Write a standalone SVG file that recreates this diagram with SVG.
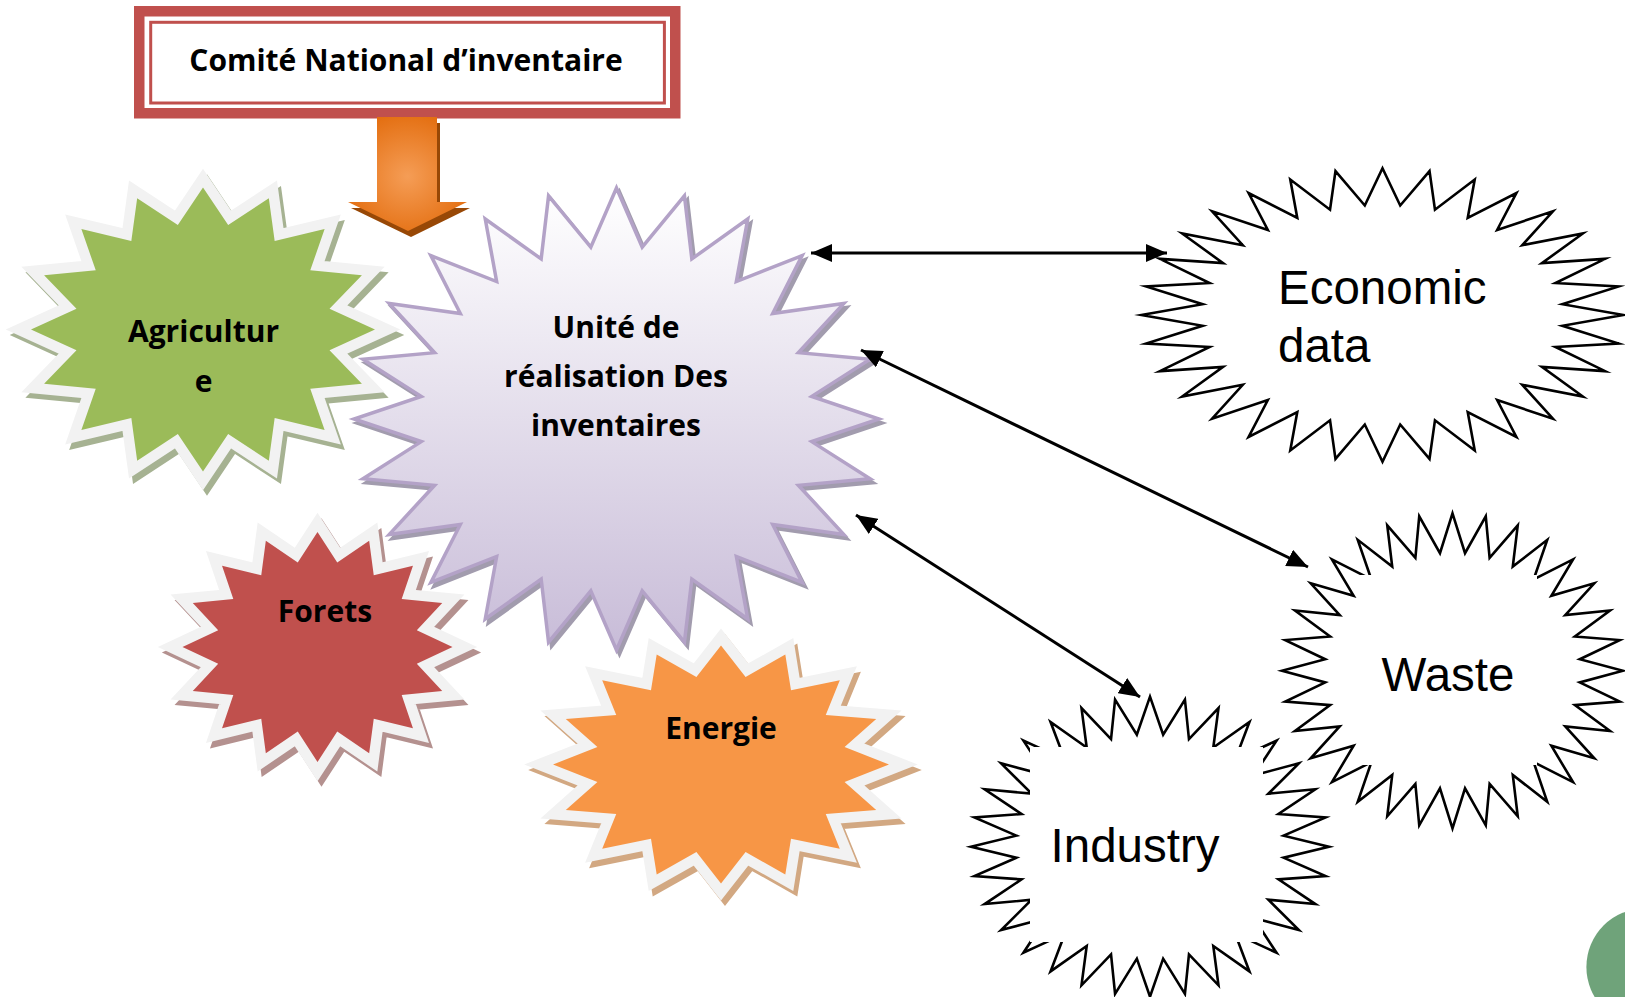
<svg xmlns="http://www.w3.org/2000/svg" width="1625" height="997" viewBox="0 0 1625 997">
<style>
.lbl{font-family:"Open Sans","Liberation Sans",sans-serif;font-weight:700;font-size:30px;fill:#000;text-anchor:middle}
.olbl{font-family:"Liberation Sans",Arial,sans-serif;font-size:47.5px;fill:#000}
.ostar{fill:none;stroke:#000;stroke-width:2.6;stroke-linejoin:miter;stroke-miterlimit:10}
.cstar{stroke:#F2F2F2;stroke-width:21;paint-order:stroke;stroke-linejoin:miter;stroke-miterlimit:10}
.shd{stroke-width:21;stroke-linejoin:miter;stroke-miterlimit:10}
.conn{stroke:#000;stroke-width:3;fill:none;marker-start:url(#ah);marker-end:url(#ah)}
</style>
<defs>
<polygon id="s16" vector-effect="non-scaling-stroke" points="0,-100 14.63,-73.56 38.27,-92.39 41.67,-62.36 70.71,-70.71 62.36,-41.67 92.39,-38.27 73.56,-14.63 100,0 73.56,14.63 92.39,38.27 62.36,41.67 70.71,70.71 41.67,62.36 38.27,92.39 14.63,73.56 0,100 -14.63,73.56 -38.27,92.39 -41.67,62.36 -70.71,70.71 -62.36,41.67 -92.39,38.27 -73.56,14.63 -100,0 -73.56,-14.63 -92.39,-38.27 -62.36,-41.67 -70.71,-70.71 -41.67,-62.36 -38.27,-92.39 -14.63,-73.56"/>
<polygon id="s24" vector-effect="non-scaling-stroke" points="0,-100 9.79,-74.36 25.88,-96.59 28.70,-69.29 50,-86.60 45.66,-59.50 70.71,-70.71 59.50,-45.66 86.60,-50 69.29,-28.70 96.59,-25.88 74.36,-9.79 100,0 74.36,9.79 96.59,25.88 69.29,28.70 86.60,50 59.50,45.66 70.71,70.71 45.66,59.50 50,86.60 28.70,69.29 25.88,96.59 9.79,74.36 0,100 -9.79,74.36 -25.88,96.59 -28.70,69.29 -50,86.60 -45.66,59.50 -70.71,70.71 -59.50,45.66 -86.60,50 -69.29,28.70 -96.59,25.88 -74.36,9.79 -100,0 -74.36,-9.79 -96.59,-25.88 -69.29,-28.70 -86.60,-50 -59.50,-45.66 -70.71,-70.71 -45.66,-59.50 -50,-86.60 -28.70,-69.29 -25.88,-96.59 -9.79,-74.36"/>
<polygon id="s32" vector-effect="non-scaling-stroke" points="0,-100 7.35,-74.64 19.51,-98.08 21.77,-71.77 38.27,-92.39 35.36,-66.14 55.56,-83.15 47.58,-57.98 70.71,-70.71 57.98,-47.58 83.15,-55.56 66.14,-35.36 92.39,-38.27 71.77,-21.77 98.08,-19.51 74.64,-7.35 100,0 74.64,7.35 98.08,19.51 71.77,21.77 92.39,38.27 66.14,35.36 83.15,55.56 57.98,47.58 70.71,70.71 47.58,57.98 55.56,83.15 35.36,66.14 38.27,92.39 21.77,71.77 19.51,98.08 7.35,74.64 0,100 -7.35,74.64 -19.51,98.08 -21.77,71.77 -38.27,92.39 -35.36,66.14 -55.56,83.15 -47.58,57.98 -70.71,70.71 -57.98,47.58 -83.15,55.56 -66.14,35.36 -92.39,38.27 -71.77,21.77 -98.08,19.51 -74.64,7.35 -100,0 -74.64,-7.35 -98.08,-19.51 -71.77,-21.77 -92.39,-38.27 -66.14,-35.36 -83.15,-55.56 -57.98,-47.58 -70.71,-70.71 -47.58,-57.98 -55.56,-83.15 -35.36,-66.14 -38.27,-92.39 -21.77,-71.77 -19.51,-98.08 -7.35,-74.64"/>
<linearGradient id="gPurple" x1="0" y1="0" x2="0" y2="1">
<stop offset="0" stop-color="#FFFFFF"/>
<stop offset="1" stop-color="#C8BCD8"/>
</linearGradient>
<radialGradient id="gArrow" cx="0.5" cy="0.52" r="0.62">
<stop offset="0" stop-color="#F59D56"/>
<stop offset="1" stop-color="#E26A0A"/>
</radialGradient>
<marker id="ah" viewBox="0 0 21 18" refX="21" refY="9" markerWidth="21" markerHeight="18" markerUnits="userSpaceOnUse" orient="auto-start-reverse">
<path d="M0,0 L21,9 L0,18 z" fill="#000"/>
</marker>
</defs>

<g id="comite">
<rect x="139.25" y="11.25" width="536" height="102" fill="#FFFFFF" stroke="#C0504D" stroke-width="10.5"/>
<rect x="150.7" y="22.3" width="513.7" height="80.7" fill="none" stroke="#C0504D" stroke-width="3"/>
<text class="lbl" x="406" y="71" font-size="31">Comité National d’inventaire</text>
</g>

<g id="fleche">
<path d="M377,117 H437 V202 H467 L408,231 L348,202 H377 Z" fill="#984806" transform="translate(3,6)"/>
<path d="M377,117 H437 V202 H467 L408,231 L348,202 H377 Z" fill="url(#gArrow)"/>
</g>

<g id="agriculture">
<use href="#s16" class="shd" fill="#A6B292" stroke="#A6B292" transform="translate(207,335) scale(1.72,1.42)"/>
<use href="#s16" class="cstar" fill="#9BBB59" transform="translate(203,329.5) scale(1.72,1.42)"/>
<text class="lbl" x="203.5" y="342" font-size="29">Agricultur</text>
<text class="lbl" x="203.5" y="392" font-size="29">e</text>
</g>

<g id="forets">
<use href="#s16" class="shd" fill="#B4918F" stroke="#B4918F" transform="translate(321.5,652.5) scale(1.35,1.15)"/>
<use href="#s16" class="cstar" fill="#C0504D" transform="translate(317.5,647) scale(1.35,1.15)"/>
<text class="lbl" x="325" y="622">Forets</text>
</g>

<g id="energie">
<use href="#s16" class="shd" fill="#D2A882" stroke="#D2A882" transform="translate(725,770) scale(1.68,1.19)"/>
<use href="#s16" class="cstar" fill="#F79646" transform="translate(721,764.5) scale(1.68,1.19)"/>
<text class="lbl" x="721" y="738.5">Energie</text>
</g>

<g id="unite">
<use href="#s24" fill="#A29CAE" stroke="#A29CAE" stroke-width="3.5" stroke-linejoin="miter" stroke-miterlimit="10" transform="translate(619.5,423) scale(2.625,2.31)"/>
<use href="#s24" fill="url(#gPurple)" stroke="#B3A2C7" stroke-width="3.5" stroke-linejoin="miter" stroke-miterlimit="10" transform="translate(616.5,419) scale(2.625,2.31)"/>
<text class="lbl" x="616" y="338">Unité de</text>
<text class="lbl" x="616" y="387">réalisation Des</text>
<text class="lbl" x="616" y="436">inventaires</text>
</g>

<g id="economic">
<use href="#s32" class="ostar" transform="translate(1382.5,315) scale(2.41,1.467)"/>
<text class="olbl" x="1278" y="304">Economic</text>
<text class="olbl" x="1278" y="361.7">data</text>
</g>

<g id="industry">
<use href="#s32" class="ostar" transform="translate(1150,846.7) scale(1.79,1.50)"/>
<rect x="1030" y="747" width="233" height="195" fill="#FFFFFF"/>
<text class="olbl" x="1135" y="861.7" text-anchor="middle">Industry</text>
</g>

<g id="waste">
<use href="#s32" class="ostar" transform="translate(1452.5,670.8) scale(1.705,1.575)"/>
<rect x="1360" y="575" width="177" height="190" fill="#FFFFFF"/>
<text class="olbl" x="1448" y="690.5" text-anchor="middle">Waste</text>
</g>

<g id="connectors">
<line class="conn" x1="811" y1="253" x2="1167" y2="253"/>
<line class="conn" x1="861" y1="350" x2="1308" y2="567"/>
<line class="conn" x1="856" y1="515" x2="1140" y2="697"/>
</g>

<circle id="deco" cx="1645" cy="967" r="58.6" fill="#6FA37A"/>
</svg>
